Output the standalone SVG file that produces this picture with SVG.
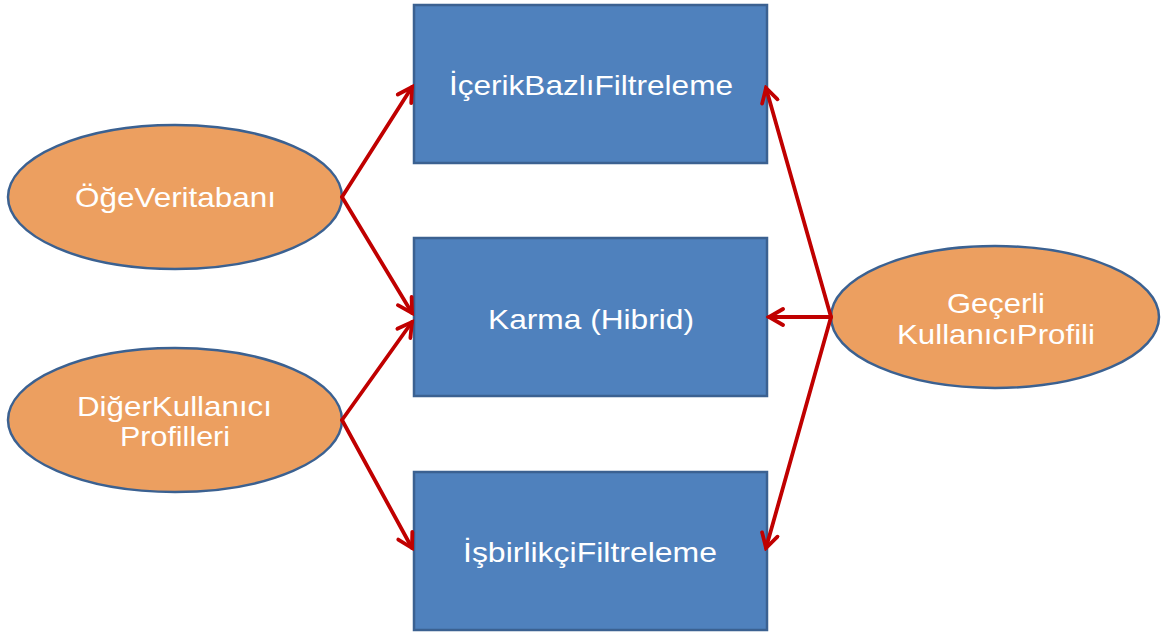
<svg xmlns="http://www.w3.org/2000/svg" width="1161" height="634" viewBox="0 0 1161 634">
<style>
.box{fill:#4F81BD;stroke:#3B6191;stroke-width:2.5}
.ell{fill:#EC9F60;stroke:#3B6191;stroke-width:2.5}
.t{font-family:"Liberation Sans",Arial,sans-serif;font-size:28px;fill:#fff;text-anchor:middle}
.c{stroke:#C00000;stroke-width:3.8;fill:none;marker-end:url(#ah)}
</style>
<defs>
<marker id="ah" viewBox="0 0 20 20" refX="17" refY="10" markerWidth="20" markerHeight="20" markerUnits="userSpaceOnUse" orient="auto">
<path d="M3,2 L17,10 L3,18" fill="none" stroke="#C00000" stroke-width="3.8" stroke-linecap="round"/>
</marker>
</defs>
<g id="box1"><rect class="box" x="414" y="5" width="353" height="158"/><text class="t" x="591" y="95" textLength="284" lengthAdjust="spacingAndGlyphs">İçerikBazlıFiltreleme</text></g>
<g id="box2"><rect class="box" x="414" y="238" width="353" height="158"/><text class="t" x="591" y="329" textLength="206" lengthAdjust="spacingAndGlyphs">Karma (Hibrid)</text></g>
<g id="box3"><rect class="box" x="414" y="472" width="353" height="158"/><text class="t" x="590" y="562" textLength="254" lengthAdjust="spacingAndGlyphs">İşbirlikçiFiltreleme</text></g>
<g id="ell1"><ellipse class="ell" cx="175" cy="197" rx="167" ry="72"/><text class="t" x="175.5" y="207" textLength="201" lengthAdjust="spacingAndGlyphs">ÖğeVeritabanı</text></g>
<g id="ell2"><ellipse class="ell" cx="175" cy="420" rx="167" ry="72"/><text class="t" x="174.5" y="416" textLength="195" lengthAdjust="spacingAndGlyphs">DiğerKullanıcı</text><text class="t" x="175" y="446" textLength="110" lengthAdjust="spacingAndGlyphs">Profilleri</text></g>
<g id="ell3"><ellipse class="ell" cx="995" cy="317" rx="164" ry="71"/><text class="t" x="996" y="313" textLength="98" lengthAdjust="spacingAndGlyphs">Geçerli</text><text class="t" x="996" y="344" textLength="198" lengthAdjust="spacingAndGlyphs">KullanıcıProfili</text></g>
<g id="connectors" stroke-linecap="round">
<line class="c" x1="342" y1="197" x2="412" y2="87"/>
<line class="c" x1="342" y1="197" x2="412" y2="313"/>
<line class="c" x1="342" y1="420" x2="412" y2="322"/>
<line class="c" x1="342" y1="420" x2="412" y2="548"/>
<line class="c" x1="831" y1="317" x2="766" y2="88"/>
<line class="c" x1="831" y1="317" x2="769" y2="317"/>
<line class="c" x1="831" y1="317" x2="766" y2="548"/>
</g>
</svg>
